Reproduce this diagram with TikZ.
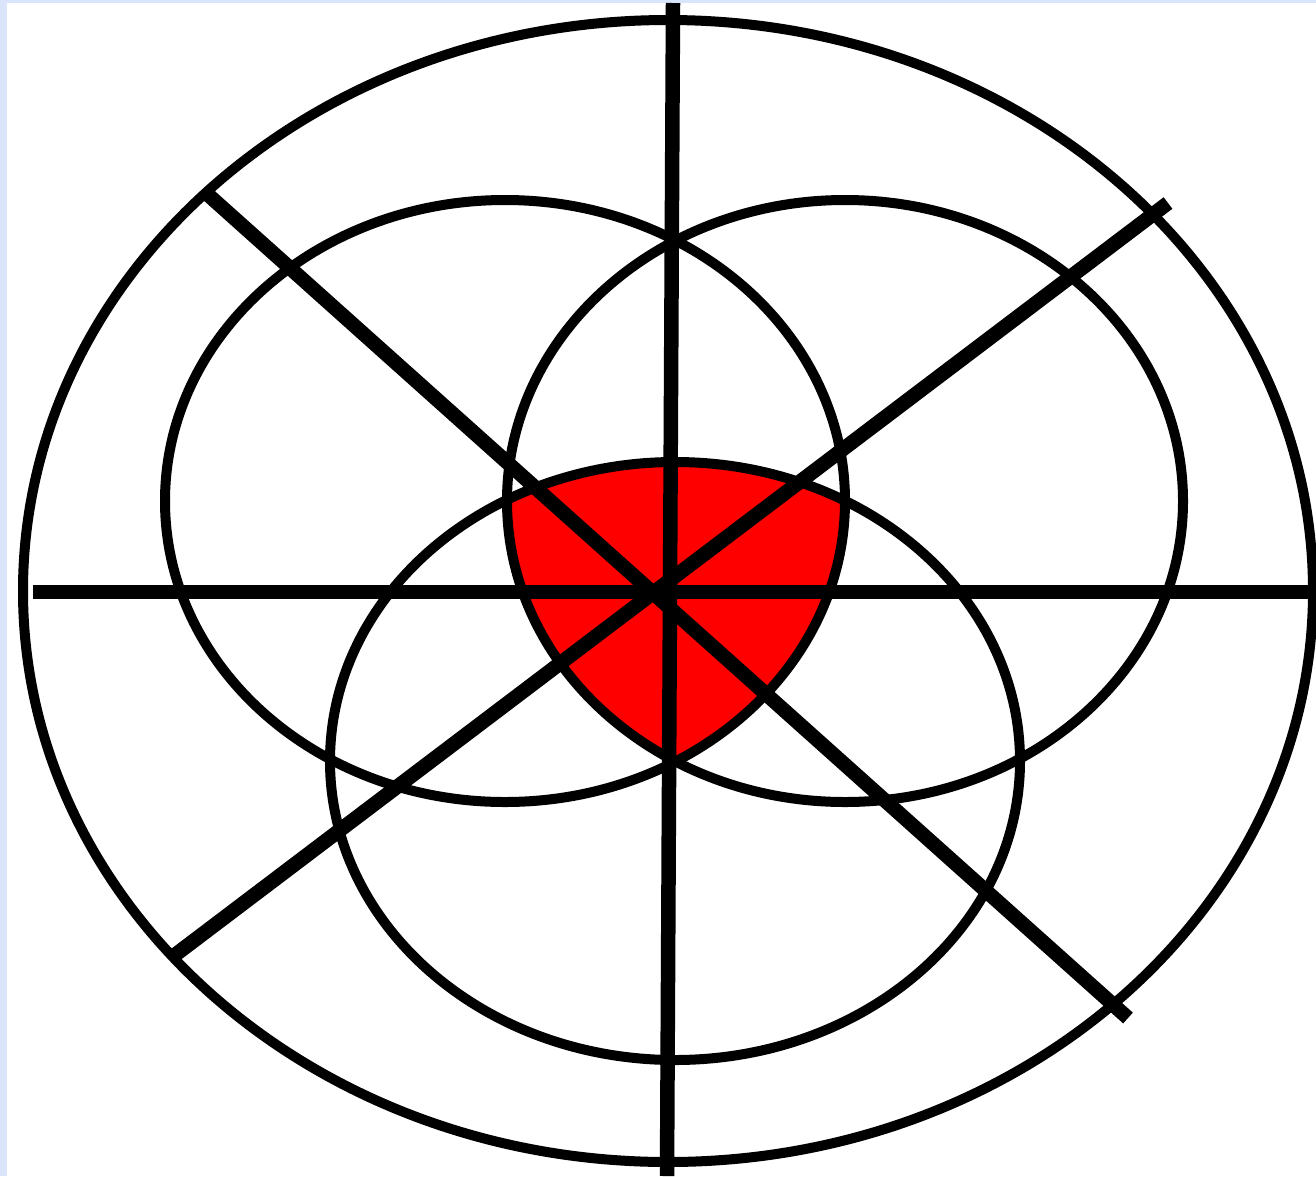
\documentclass[tikz,border=0pt]{standalone}
\usetikzlibrary{calc}
\definecolor{edgeblue}{RGB}{218,228,250}
\tikzset{
  ring/.style={draw=black, line width=10pt},
  spoke/.style={draw=black, line width=14.5pt, line cap=butt},
}
\begin{document}
\begin{tikzpicture}[x=1pt,y=-1pt]
\useasboundingbox (0,0) rectangle (1316,1176);
\fill[white] (0,0) rectangle (1316,1176);
\fill[edgeblue] (0,0) rectangle (1316,3);
\fill[edgeblue] (0,0) rectangle (7,1176);
% red intersection of the three circles
\begin{scope}
  \clip (505,501) ellipse [x radius=340, y radius=301];
  \clip (845,501) ellipse [x radius=338, y radius=301];
  \fill[red] (675,761) ellipse [x radius=345, y radius=299];
\end{scope}
% outer ellipse and three circles
\draw[ring] (668,591) ellipse [x radius=645, y radius=571];
\draw[ring] (505,501) ellipse [x radius=340, y radius=301];
\draw[ring] (845,501) ellipse [x radius=338, y radius=301];
\draw[ring] (675,761) ellipse [x radius=345, y radius=299];
% spokes
\coordinate (vt) at (673,3);
\coordinate (vb) at (667,1176);
\coordinate (hl) at (33,592);
\coordinate (hr) at (1316,592);
\coordinate (d1a) at (205,192);
\coordinate (d1b) at (1128,1018);
\coordinate (d2a) at (1168,203);
\coordinate (d2b) at (171,958);
\draw[spoke] (vt) -- (vb);
\draw[spoke] (hl) -- (hr);
\draw[spoke] (d1a) -- (d1b);
\draw[spoke] (d2a) -- (d2b);
\end{tikzpicture}
\end{document}
